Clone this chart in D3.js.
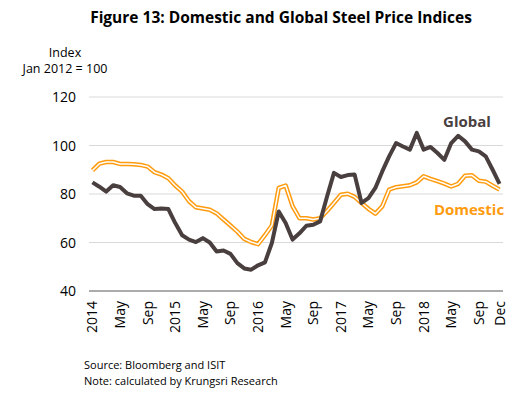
<!DOCTYPE html>
<html lang="en">
<head>
<meta charset="UTF-8">
<title>Domestic and Global Steel Price Indices</title>
<script src="https://d3js.org/d3.v7.min.js"></script>
<style>
    body { margin: 0; background: #fff; font-family: 'Open Sans', sans-serif; }
    .grid line { stroke: #d9d9d9; stroke-width: 1; }
    .tick-label { font-size: 14px; fill: #000; }
</style>
</head>
<body>
<svg id="chart" width="524" height="396"></svg>
<script>
    // monthly points, Jan 2014 .. Dec 2018
    const months = d3.timeMonth.range(new Date(2014, 0, 1), new Date(2019, 0, 1))
        .map(d3.timeFormat("%Y-%m"));

    const globalIdx = [
        84.8, 83, 81, 83.6, 82.9, 80.3, 79.3, 79.3, 75.8, 73.8, 74, 73.8,
        68, 63, 61.2, 60.2, 61.8, 60, 56.3, 56.7, 55.3, 51.5, 49.3, 48.8,
        50.6, 51.8, 59.8, 72.8, 68, 61.2, 63.8, 66.9, 67.3, 68.7, 79, 88.7,
        87, 87.8, 88, 76.3, 78.3, 82.5, 89.3, 95.5, 101, 99.6, 98.3, 105.2,
        98.3, 99.4, 96.9, 94.1, 101, 104, 101.7, 98.3, 97.6, 95.5, 90, 84.2
    ];
    const domesticIdx = [
        89.7, 92.5, 93.2, 93.2, 92.4, 92.4, 92.3, 92, 91.3, 89, 88, 86.5,
        83.5, 81, 77, 74.5, 74, 73.5, 72, 69.5, 67, 64.5, 61.5, 60.2,
        59.3, 63, 67, 82.5, 83.5, 75, 70, 70, 69.5, 70, 73, 76.3,
        79.7, 80.1, 78.8, 76.3, 73.9, 71.9, 74.9, 81.8, 82.8, 83.2, 83.6, 84.8,
        87.3, 86.2, 85.3, 84.3, 83.1, 84.2, 87.5, 87.7, 85.5, 85.1, 83.4, 81.8
    ];

    const tickMonths = ["2014-01","2014-05","2014-09","2015-01","2015-05","2015-09",
        "2016-01","2016-05","2016-09","2017-01","2017-05","2017-09",
        "2018-01","2018-05","2018-09","2018-12"];
    const tickLabels = ["2014","May","Sep","2015","May","Sep","2016","May","Sep",
        "2017","May","Sep","2018","May","Sep","Dec"];
    const yTicks = [40, 60, 80, 100, 120];

    const svg = d3.select("#chart");
    const plotL = 89, plotR = 503, plotT = 97, plotB = 291;

    const x = d3.scalePoint().domain(months).range([plotL, plotR]).padding(0.5);
    const y = d3.scaleLinear().domain([40, 120]).range([plotB, plotT]);

    // title
    svg.append("text")
        .attr("x", 281).attr("y", 23)
        .attr("text-anchor", "middle")
        .attr("font-size", 15.5).attr("font-weight", "bold")
        .text("Figure 13: Domestic and Global Steel Price Indices");

    // y axis caption
    svg.append("text").attr("x", 65).attr("y", 57).attr("text-anchor", "middle")
        .attr("font-size", 12.5).text("Index");
    svg.append("text").attr("x", 65).attr("y", 73).attr("text-anchor", "middle")
        .attr("font-size", 12.5).text("Jan 2012 = 100");

    // gridlines
    svg.append("g").attr("class", "grid")
        .selectAll("line")
        .data(yTicks.filter(d => d > 40))
        .join("line")
        .attr("x1", plotL).attr("x2", plotR)
        .attr("y1", d => y(d)).attr("y2", d => y(d));

    // bottom axis line
    svg.append("line")
        .attr("x1", plotL).attr("x2", plotR)
        .attr("y1", y(40)).attr("y2", y(40))
        .attr("stroke", "#595959").attr("stroke-width", 1);

    // y tick labels
    svg.selectAll(".ylab")
        .data(yTicks)
        .join("text")
        .attr("class", "tick-label")
        .attr("x", 76).attr("y", d => y(d) + 5)
        .attr("text-anchor", "end")
        .attr("font-size", 15)
        .text(d => d);

    // x tick labels, rotated
    svg.selectAll(".xlab")
        .data(tickMonths)
        .join("text")
        .attr("class", "tick-label")
        .attr("transform", d => `translate(${x(d) + 5},${plotB + 10}) rotate(-90)`)
        .attr("text-anchor", "end")
        .text((d, i) => tickLabels[i]);

    const line = d3.line()
        .x((d, i) => x(months[i]))
        .y(d => y(d));

    // domestic: orange double line
    svg.append("path")
        .attr("d", line(domesticIdx))
        .attr("fill", "none")
        .attr("stroke", "#FF9B0F")
        .attr("stroke-width", 4.5)
        .attr("stroke-linejoin", "round");
    svg.append("path")
        .attr("d", line(domesticIdx))
        .attr("fill", "none")
        .attr("stroke", "#fff")
        .attr("stroke-width", 1.5)
        .attr("stroke-linejoin", "round");

    // global
    svg.append("path")
        .attr("d", line(globalIdx))
        .attr("fill", "none")
        .attr("stroke", "#4A3F3F")
        .attr("stroke-width", 4)
        .attr("stroke-linejoin", "round");

    // series labels
    svg.append("text").attr("x", 467).attr("y", 127).attr("text-anchor", "middle")
        .attr("font-size", 15).attr("font-weight", "bold").attr("fill", "#4A3F3F")
        .text("Global");
    svg.append("text").attr("x", 469).attr("y", 215).attr("text-anchor", "middle")
        .attr("font-size", 15).attr("font-weight", "bold").attr("fill", "#FF9B0F")
        .text("Domestic");

    // notes
    svg.append("text").attr("x", 84).attr("y", 369).attr("font-size", 11)
        .text("Source: Bloomberg and ISIT");
    svg.append("text").attr("x", 84).attr("y", 385).attr("font-size", 11)
        .text("Note: calculated by Krungsri Research");
</script>
</body>
</html>
